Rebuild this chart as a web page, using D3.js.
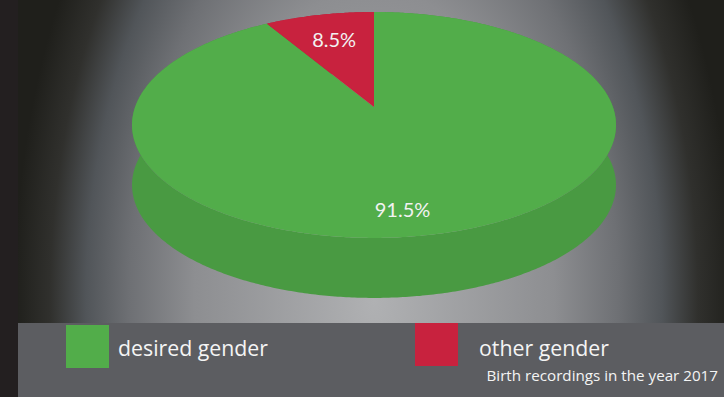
<!DOCTYPE html>
<html>
<head>
<meta charset="utf-8">
<script src="https://cdn.jsdelivr.net/npm/d3@7"></script>
<style>
  html, body { margin: 0; padding: 0; background: #231f20; }
  svg { display: block; }
</style>
</head>
<body>
<svg id="chart" width="724" height="397"></svg>
<script>
// ---- data ----
const categories = ["desired gender", "other gender"];
const values = [91.5, 8.5];
const valueLabels = ["91.5%", "8.5%"];
const sliceColors = ["#52ad4a", "#c8223e"];
const caption = "Birth recordings in the year 2017";

// ---- layout ----
const W = 724, H = 397;
const svg = d3.select("#chart");
const defs = svg.append("defs");

// background
const grad = defs.append("radialGradient")
  .attr("id", "bg").attr("gradientUnits", "userSpaceOnUse")
  .attr("cx", 0).attr("cy", 0).attr("r", 1)
  .attr("gradientTransform", "translate(374,300) scale(360,620)");
[[0, "#b0b1b3"], [0.5, "#8d8e91"], [0.68, "#6e7074"], [0.8, "#515559"], [0.9, "#30302d"], [1, "#1f1f1b"]]
  .forEach(([o, c]) => grad.append("stop").attr("offset", o).attr("stop-color", c));
svg.append("rect").attr("width", W).attr("height", H).attr("fill", "#231f20");
svg.append("rect").attr("x", 18).attr("y", 0).attr("width", W - 18).attr("height", 323).attr("fill", "url(#bg)");

// perspective projection of a unit disk onto the screen
const cx = 374, cy = 107, A = 238.9, B = 110.1, k = -0.159, depth = 60;
function proj(theta, r) {
  const u = r * Math.sin(theta), v = -r * Math.cos(theta);
  const s = 1 + k * v;
  return [cx + A * u / s, cy + B * v / s];
}

const color = d3.scaleOrdinal().domain(categories).range(sliceColors);
const pie = d3.pie().sort(null).value(d => d.value);
const arcs = pie(categories.map((c, i) => ({ cat: c, value: values[i], label: valueLabels[i] })));

function samples(a) {
  const n = Math.max(8, Math.ceil((a.endAngle - a.startAngle) / 0.01));
  return d3.range(n + 1).map(i => a.startAngle + (a.endAngle - a.startAngle) * i / n);
}
const line = d3.line();

// sides (drawn first, top faces cover the hidden parts)
const g = svg.append("g");
g.selectAll("path.side").data(arcs).join("path")
  .attr("class", "side")
  .attr("fill", d => d3.color(color(d.data.cat)).darker(0.32))
  .attr("d", d => {
    const ts = samples(d);
    const top = ts.map(t => proj(t, 1));
    const bot = ts.slice().reverse().map(t => { const p = proj(t, 1); return [p[0], p[1] + depth]; });
    return line(top.concat(bot)) + "Z";
  });

// top faces
g.selectAll("path.top").data(arcs).join("path")
  .attr("class", "top")
  .attr("fill", d => color(d.data.cat))
  .attr("d", d => line([[cx, cy]].concat(samples(d).map(t => proj(t, 1)))) + "Z");

// value labels
const labelPos = [[0.82, 0.14], [0.7, 0]]; // radius factor, angle shift
g.selectAll("text.val").data(arcs).join("text")
  .attr("class", "val")
  .attr("transform", (d, i) => {
    const p = proj((d.startAngle + d.endAngle) / 2 + labelPos[i][1], labelPos[i][0]);
    return `translate(${p[0]},${p[1]})`;
  })
  .attr("text-anchor", "middle").attr("dy", "0.35em")
  .attr("font-family", "Lato, 'Open Sans', sans-serif").attr("font-size", 20)
  .attr("fill", "#f2f2f2")
  .text(d => d.data.label);

// legend band
svg.append("rect").attr("x", 18).attr("y", 323).attr("width", W - 18).attr("height", H - 323).attr("fill", "#5c5d61");
const legX = [66, 415], legTextX = [118, 479], legY = [325, 323];
const leg = svg.append("g").selectAll("g").data(categories).join("g");
leg.append("rect")
  .attr("x", (d, i) => legX[i]).attr("y", (d, i) => legY[i])
  .attr("width", 43).attr("height", 43)
  .attr("fill", d => color(d));
leg.append("text")
  .attr("x", (d, i) => legTextX[i]).attr("y", 356)
  .attr("font-family", "'Open Sans', Lato, sans-serif").attr("font-size", 21.3)
  .attr("fill", "#f4f4f4")
  .text(d => d);

svg.append("text").attr("x", 718).attr("y", 381).attr("text-anchor", "end")
  .attr("font-family", "'Open Sans', Lato, sans-serif").attr("font-size", 15.2)
  .attr("fill", "#f4f4f4").text(caption);
</script>
</body>
</html>
